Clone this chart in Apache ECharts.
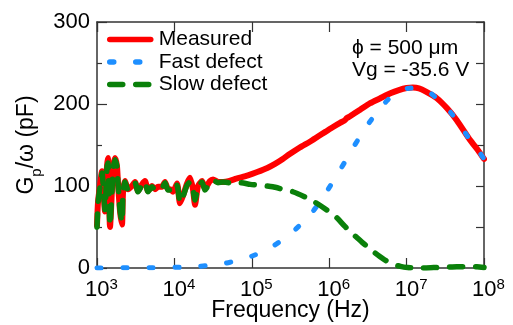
<!DOCTYPE html>
<html>
<head>
<meta charset="utf-8">
<script src="https://cdn.jsdelivr.net/npm/echarts@6/dist/echarts.min.js"></script>
<style>
html,body{margin:0;padding:0;background:#fff;}
#chart{width:513px;height:325px;}
</style>
</head>
<body>
<div id="chart"></div>
<script>
// ---- data (frequencies as log10(Hz), values in pF) ----
var seriesNames = ['Measured', 'Fast defect', 'Slow defect'];
var xTickExponents = [3, 4, 5, 6, 7, 8];
var yTickValues = [0, 100, 200, 300];

var measuredLogF = [3.000, 3.013, 3.039, 3.065, 3.078, 3.103, 3.129, 3.142, 3.155, 3.168,
  3.194, 3.207, 3.233, 3.258, 3.271, 3.297, 3.323, 3.336, 3.362, 3.401,
  3.452, 3.491, 3.530, 3.581, 3.620, 3.659, 3.711, 3.749, 3.788, 3.840,
  3.879, 3.917, 3.943, 3.982, 4.034, 4.072, 4.111, 4.163, 4.202, 4.240,
  4.266, 4.305, 4.357, 4.395, 4.460, 4.499, 4.563, 4.628, 4.70, 4.80,
  4.95, 5.07, 5.20, 5.30, 5.40, 5.49, 5.62, 5.75, 5.85, 5.95,
  6.05, 6.14, 6.20, 6.23, 6.27, 6.40, 6.53, 6.66, 6.79, 6.90,
  7.00, 7.08, 7.16, 7.25, 7.39, 7.52, 7.65, 7.82, 7.92, 8.00];
var measuredVal = [52, 80, 101, 118, 104, 69, 124, 134, 86, 50,
  97, 122, 134, 124, 104, 70, 53, 92, 106, 96,
  100, 105, 94, 102, 106, 94, 100, 96, 99, 99,
  105, 96, 96, 93, 103, 79, 88, 103, 110, 96,
  77, 100, 106, 97, 106, 108, 105, 105, 106, 109,
  113, 117, 122, 127, 133, 139, 147, 154, 160, 166,
  172, 177, 180, 183, 185, 193, 201, 207, 213, 217,
  219.5, 220, 219, 215, 207, 195, 180, 156, 144, 133];

var fastLogF = [3.00, 3.50, 4.00, 4.37, 4.72, 5.07, 5.36, 5.62, 5.83, 6.04,
  6.20, 6.37, 6.57, 6.79, 6.95, 7.08, 7.20, 7.39, 7.52, 7.65, 7.82, 7.92, 8.00];
var fastVal = [0, 0.3, 0.8, 2.4, 7, 17, 32, 52, 74, 104,
  129, 156, 184, 208, 217, 219.5, 218.5, 207, 195, 180, 156, 144, 133];

var slowLogF = [3.000, 3.013, 3.039, 3.065, 3.078, 3.103, 3.129, 3.142, 3.155, 3.168,
  3.194, 3.207, 3.233, 3.258, 3.271, 3.297, 3.323, 3.336, 3.362, 3.401,
  3.452, 3.491, 3.530, 3.581, 3.620, 3.659, 3.711, 3.749, 3.788, 3.840,
  3.879, 3.917, 3.943, 3.982, 4.034, 4.072, 4.111, 4.163, 4.202, 4.240,
  4.266, 4.305, 4.357, 4.395, 4.460, 4.499, 4.563, 4.628,
  4.70, 4.85, 4.98, 5.10, 5.27, 5.40, 5.53, 5.68, 5.82, 5.95,
  6.08, 6.20, 6.30, 6.43, 6.57, 6.70, 6.81, 6.92, 7.01, 7.10,
  7.21, 7.35, 7.50, 7.65, 7.80, 7.91, 8.00];
var slowVal = [50, 79, 99, 116, 104, 71, 123, 128, 87, 52,
  95, 120, 132, 124, 104, 71, 56, 91, 105, 95,
  99, 104, 93, 101, 105, 93, 99, 95, 98, 98,
  104, 95, 95, 92, 101, 80, 87, 101, 105, 95,
  83, 98, 105, 95, 104, 107, 104, 105,
  104, 104, 102, 101, 99, 96, 93, 87, 80, 72,
  63, 51, 42, 31, 20, 11, 5, 2, 0.5, 0,
  0, 0.5, 1, 1.5, 1.5, 1.5, 0.5];

var annotationLines = ['ϕ = 500 μm', 'Vg = -35.6 V'];

function pairs(logF, vals) {
  return logF.map(function (l, i) { return [Math.pow(10, l), vals[i]]; });
}

var FONT = 'Liberation Sans, Arial, sans-serif';
var chart = echarts.init(document.getElementById('chart'), null, {renderer: 'canvas'});

var option = {
  animation: false,
  backgroundColor: '#ffffff',
  textStyle: {fontFamily: FONT, color: '#000'},
  grid: {left: 97, right: 29, top: 22, bottom: 57, containLabel: false, outerBoundsMode: 'none'},
  title: {
    text: annotationLines.join('\n'),
    left: 352, top: 37, padding: 0,
    textStyle: {fontFamily: FONT, fontSize: 21, fontWeight: 'normal', color: '#000', lineHeight: 22}
  },
  legend: {
    data: seriesNames,
    orient: 'vertical',
    left: 107, top: 29, padding: 0,
    itemWidth: 41, itemHeight: 10, itemGap: 1.5,
    itemStyle: {opacity: 0},
    lineStyle: {width: 5.5, cap: 'round'},
    textStyle: {fontFamily: FONT, fontSize: 21, color: '#000', lineHeight: 21, padding: [0, 0, 0, 3]},
    selectedMode: false
  },
  xAxis: [{
    type: 'log', logBase: 10, min: 1e3, max: 1e8, splitNumber: 5,
    position: 'bottom',
    name: 'Frequency (Hz)', nameLocation: 'middle', nameGap: 31, nameMoveOverlap: false,
    nameTextStyle: {fontFamily: FONT, fontSize: 23, color: '#000'},
    axisLine: {show: true, onZero: false, lineStyle: {color: '#333', width: 1.5}},
    axisTick: {show: true, inside: true, length: 10, lineStyle: {color: '#333', width: 1.2}},
    minorTick: {show: false},
    splitLine: {show: false},
    axisLabel: {
      margin: 9,
      formatter: function (v) {
        var e = Math.round(Math.log10(v));
        if (xTickExponents.indexOf(e) < 0) return '';
        return '{b|10}{s|' + e + '}';
      },
      rich: {
        b: {fontFamily: FONT, fontSize: 22, color: '#000', lineHeight: 26, padding: [0, 0, 0, 9]},
        s: {fontFamily: FONT, fontSize: 15, color: '#000', lineHeight: 15, verticalAlign: 'top'}
      }
    }
  }, {
    type: 'log', logBase: 10, min: 1e3, max: 1e8, splitNumber: 5,
    position: 'top',
    axisLine: {show: true, onZero: false, lineStyle: {color: '#333', width: 1.5}},
    axisTick: {show: true, inside: true, length: 10, lineStyle: {color: '#333', width: 1.2}},
    axisLabel: {show: false},
    splitLine: {show: false}
  }],
  yAxis: [{
    type: 'value', min: 0, max: 300, interval: 100,
    position: 'left',
    name: '{n|G}{sub|p}{n|/ω (pF)}', nameLocation: 'middle', nameGap: 57, nameRotate: 90, nameMoveOverlap: false,
    nameTextStyle: {
      rich: {
        n: {fontFamily: FONT, fontSize: 23, color: '#000', lineHeight: 26},
        sub: {fontFamily: FONT, fontSize: 15, color: '#000', lineHeight: 26, verticalAlign: 'bottom', padding: [0, 0, -4, 0]}
      }
    },
    axisLine: {show: true, onZero: false, lineStyle: {color: '#333', width: 1.5}},
    axisTick: {show: true, inside: true, length: 10, lineStyle: {color: '#333', width: 1.2}},
    minorTick: {show: true, splitNumber: 2, length: 5, lineStyle: {color: '#333', width: 1.2}},
    splitLine: {show: false},
    minorSplitLine: {show: false},
    axisLabel: {
      margin: 7, fontFamily: FONT, fontSize: 22, color: '#000',
      formatter: function (v) { return yTickValues.indexOf(v) >= 0 ? String(v) : ''; }
    }
  }, {
    type: 'value', min: 0, max: 300, interval: 100,
    position: 'right',
    axisLine: {show: true, onZero: false, lineStyle: {color: '#333', width: 1.5}},
    axisTick: {show: true, inside: true, length: 8, lineStyle: {color: '#333', width: 1.2}},
    minorTick: {show: true, splitNumber: 2, length: 8, lineStyle: {color: '#333', width: 1.2}},
    splitLine: {show: false},
    axisLabel: {show: false}
  }],
  series: [{
    name: seriesNames[0], type: 'line', xAxisIndex: 0, yAxisIndex: 0,
    data: pairs(measuredLogF, measuredVal),
    showSymbol: false, symbol: 'none', smooth: 0.2,
    lineStyle: {color: '#ff0000', width: 6, cap: 'round', join: 'round'},
    itemStyle: {color: '#ff0000'},
    z: 2
  }, {
    name: seriesNames[1], type: 'line', xAxisIndex: 0, yAxisIndex: 0,
    data: pairs(fastLogF, fastVal),
    showSymbol: false, symbol: 'none', smooth: 0.4,
    lineStyle: {color: '#1e8fff', width: 5, type: [4, 22], cap: 'round', join: 'round'},
    itemStyle: {color: '#1e8fff'},
    z: 3
  }, {
    name: seriesNames[2], type: 'line', xAxisIndex: 0, yAxisIndex: 0,
    data: pairs(slowLogF, slowVal),
    showSymbol: false, symbol: 'none', smooth: 0.2,
    lineStyle: {color: '#0a800a', width: 5.5, type: [13, 13], cap: 'round', join: 'round'},
    itemStyle: {color: '#0a800a'},
    z: 4
  }]
};
chart.setOption(option);
</script>
</body>
</html>
